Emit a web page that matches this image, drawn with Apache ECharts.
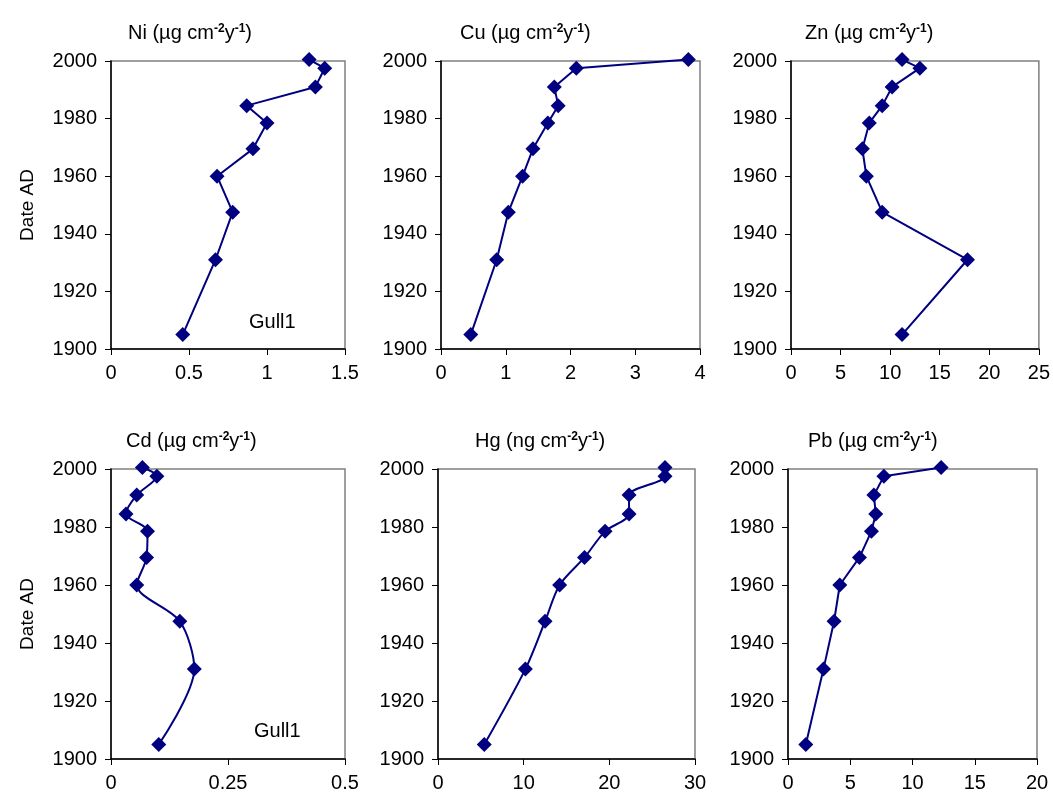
<!DOCTYPE html>
<html>
<head>
<meta charset="utf-8">
<script src="https://cdn.jsdelivr.net/npm/echarts@6/dist/echarts.min.js"></script>
<style>
  html, body { margin: 0; padding: 0; background: #fff; }
  #chart { width: 1053px; height: 798px; }
</style>
</head>
<body>
<div id="chart"></div>
<script>
// sample dates (AD), shared by every panel
const years = [2000.5, 1997.5, 1991, 1984.5, 1978.5, 1969.5, 1960, 1947.5, 1931, 1905];

// fluxes
const ni = [1.27, 1.37, 1.31, 0.87, 1.0, 0.91, 0.68, 0.78, 0.67, 0.46];
const cu = [3.82, 2.09, 1.75, 1.81, 1.65, 1.42, 1.26, 1.04, 0.86, 0.46];
const zn = [11.2, 13.0, 10.2, 9.2, 7.9, 7.2, 7.6, 9.2, 17.8, 11.2];
const cd = [0.067, 0.098, 0.055, 0.032, 0.078, 0.076, 0.055, 0.147, 0.178, 0.102];
const hg = [26.5, 26.5, 22.3, 22.3, 19.5, 17.1, 14.2, 12.5, 10.2, 5.4];
const pb = [12.3, 7.7, 6.9, 7.05, 6.7, 5.74, 4.16, 3.7, 2.85, 1.43];

const elements = ['Ni', 'Cu', 'Zn', 'Cd', 'Hg', 'Pb'];
const units = ['µg', 'µg', 'µg', 'µg', 'ng', 'µg'];
const values = [ni, cu, zn, cd, hg, pb];
const xMax = [1.5, 4, 25, 0.5, 30, 20];
const xStep = [0.5, 1, 5, 0.25, 10, 5];
const smoothing = [false, false, false, 0.3, 0.3, false];

const yearTicks = [1900, 2000, 20];

const boxes = [
  { left: 111, top: 61, width: 234, height: 288, titleX: 123, titleY: 18 },
  { left: 441, top: 61, width: 259, height: 288, titleX: 455, titleY: 18 },
  { left: 791, top: 61, width: 249, height: 288, titleX: 800, titleY: 18 },
  { left: 111, top: 469, width: 234, height: 290, titleX: 121, titleY: 426 },
  { left: 438, top: 469, width: 257, height: 290, titleX: 470, titleY: 426 },
  { left: 788, top: 469, width: 249, height: 290, titleX: 803, titleY: 426 }
];

const font = 'Liberation Sans, Arial, sans-serif';
const navy = '#000080';

const grid = [], xAxis = [], yAxis = [], series = [], title = [];
boxes.forEach((b, i) => {
  grid.push({
    left: b.left, top: b.top, width: b.width, height: b.height,
    show: true, borderColor: '#808080', borderWidth: 1.5, backgroundColor: '#fff'
  });
  title.push({
    left: b.titleX, top: b.titleY,
    text: '{n|' + elements[i] + ' (' + units[i] + ' cm}{s|-2}{n|y}{s|-1}{n|)}',
    textStyle: {
      rich: {
        n: { fontFamily: font, fontSize: 20, color: '#000', fontWeight: 'normal' },
        s: { fontFamily: font, fontSize: 12, color: '#000', verticalAlign: 'top', padding: [0, 0, 9, 0] }
      }
    }
  });
  xAxis.push({
    gridIndex: i, type: 'value', min: 0, max: xMax[i], interval: xStep[i],
    splitLine: { show: false },
    axisLine: { onZero: false, lineStyle: { color: '#000', width: 1.5 } },
    axisTick: { length: 6, lineStyle: { color: '#000' } },
    axisLabel: { fontFamily: font, fontSize: 20, color: '#000', margin: 14 }
  });
  yAxis.push({
    gridIndex: i, type: 'value', min: yearTicks[0], max: yearTicks[1], interval: yearTicks[2],
    splitLine: { show: false },
    name: i % 3 === 0 ? 'Date AD' : '',
    nameLocation: 'middle', nameGap: 74, nameRotate: 90,
    nameTextStyle: { fontFamily: font, fontSize: 19, color: '#000' },
    axisLine: { onZero: false, lineStyle: { color: '#000', width: 1.5 } },
    axisTick: { length: 6, lineStyle: { color: '#000' } },
    axisLabel: {
      fontFamily: font, fontSize: 20, color: '#000', margin: 14,
      formatter: v => String(v)
    }
  });
  series.push({
    type: 'line', xAxisIndex: i, yAxisIndex: i,
    data: values[i].map((v, k) => [v, years[k]]),
    smooth: smoothing[i],
    clip: false,
    symbol: 'diamond', symbolSize: 15,
    itemStyle: { color: navy },
    lineStyle: { color: navy, width: 2 }
  });
});

const chart = echarts.init(document.getElementById('chart'), null, { renderer: 'canvas' });
chart.setOption({
  animation: false,
  backgroundColor: '#fff',
  title: title,
  grid: grid,
  xAxis: xAxis,
  yAxis: yAxis,
  series: series,
  graphic: [
    { type: 'text', left: 249, top: 312, style: { text: 'Gull1', fontFamily: font, fontSize: 20, fill: '#000' } },
    { type: 'text', left: 254, top: 721, style: { text: 'Gull1', fontFamily: font, fontSize: 20, fill: '#000' } }
  ]
});
</script>
</body>
</html>
